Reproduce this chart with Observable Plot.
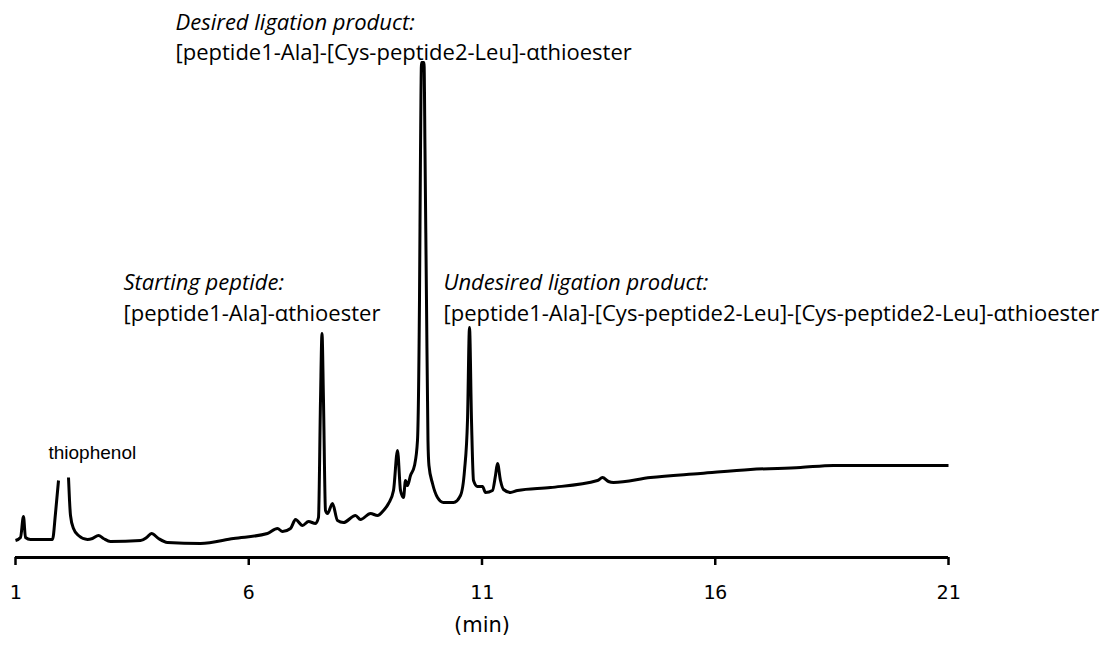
<!DOCTYPE html>
<html>
<head>
<meta charset="utf-8">
<script src="https://cdn.jsdelivr.net/npm/d3@7"></script>
<script src="https://cdn.jsdelivr.net/npm/@observablehq/plot@0.6"></script>
<style>
  html, body { margin: 0; padding: 0; background: #fff; }
</style>
</head>
<body>
<div id="chart"></div>
<script>
// Retention time (min)
const times = [
  1.000, 1.107, 1.171, 1.214, 1.322, 1.793, 1.857, 1.922, 2.030, 2.136,
  2.158, 2.179, 2.243, 2.350, 2.543, 2.650, 2.779, 2.886, 3.036, 3.680,
  3.810, 3.915, 4.065, 4.258, 4.966, 5.673, 6.402, 6.616, 6.723, 6.895,
  7.002, 7.152, 7.281, 7.431, 7.495, 7.538, 7.570, 7.602, 7.645, 7.688,
  7.795, 7.902, 8.031, 8.288, 8.395, 8.610, 8.760, 8.888, 8.996, 9.103,
  9.189, 9.253, 9.317, 9.360, 9.403, 9.467, 9.553, 9.617, 9.660, 9.682,
  9.703, 9.757, 9.778, 9.810, 9.842, 9.863, 9.939, 10.046, 10.175, 10.389,
  10.539, 10.625, 10.689, 10.732, 10.775, 10.818, 10.903, 11.011, 11.075, 11.225,
  11.289, 11.332, 11.396, 11.461, 11.611, 11.761, 12.468, 13.476, 13.583, 13.712,
  13.819, 14.612, 15.684, 16.756, 17.828, 18.535, 21.000
];
// Detector signal (relative units); null = off-scale gap at the thiophenol peak
const absorbance = [
  3.4, 4.0, 8.2, 4.0, 3.6, 3.6, 8.8, 15.4, null, 16.0,
  11.4, 8.4, 5.8, 4.4, 3.6, 3.8, 4.4, 3.8, 3.2, 3.4,
  4.0, 4.8, 3.8, 3.0, 2.8, 3.8, 4.8, 5.8, 5.2, 5.8,
  7.6, 6.4, 7.2, 6.8, 8.0, 31.4, 44.8, 31.4, 9.4, 8.8,
  10.8, 7.4, 7.0, 8.4, 7.6, 8.8, 8.4, 9.4, 10.8, 13.4,
  21.4, 13.4, 12.0, 15.4, 14.4, 16.4, 18.4, 23.4, 51.4, 81.4,
  99.0, 99.0, 81.4, 51.4, 23.4, 18.4, 14.8, 12.0, 11.0, 11.0,
  12.4, 17.4, 27.4, 46.0, 27.4, 15.4, 14.2, 14.2, 13.0, 13.4,
  16.4, 18.8, 15.4, 13.6, 13.0, 13.4, 14.0, 15.4, 16.0, 15.2,
  15.0, 16.0, 16.8, 17.6, 18.0, 18.4, 18.4
];
const xTicks = [1, 6, 11, 16, 21];
const xLabel = "(min)";

const data = times.map((t, i) => ({t, a: absorbance[i]}));

const labelFont = "'Open Sans', 'Noto Sans', sans-serif";

const annotations = [
  {x: 4.43, y: 105.6, text: "Desired ligation product:", italic: true},
  {x: 4.43, y: 99.6, text: "[peptide1-Ala]-[Cys-peptide2-Leu]-αthioester", italic: false},
  {x: 3.315, y: 53.6, text: "Starting peptide:", italic: true},
  {x: 3.315, y: 47.4, text: "[peptide1-Ala]-αthioester", italic: false},
  {x: 10.175, y: 53.6, text: "Undesired ligation product:", italic: true},
  {x: 10.175, y: 47.4, text: "[peptide1-Ala]-[Cys-peptide2-Leu]-[Cys-peptide2-Leu]-αthioester", italic: false}
];

const chart = Plot.plot({
  width: 1115,
  height: 645,
  marginLeft: 15,
  marginRight: 167,
  marginTop: 57,
  marginBottom: 88,
  x: {domain: [1, 21]},
  y: {domain: [0, 100], axis: null},
  style: {background: "#fff", color: "#000"},
  marks: [
    Plot.ruleY([0], {x1: 1, x2: 21, stroke: "#000", strokeWidth: 3}),
    Plot.axisX({
      ticks: xTicks,
      tickSize: 8,
      tickPadding: 19,
      strokeWidth: 2.5,
      fontSize: 20,
      fontFamily: "'DejaVu Sans Mono', monospace",
      tickFormat: d => String(d),
      label: null
    }),
    Plot.text([xLabel], {x: 11, y: -14.8, text: d => d, fontSize: 21,
      fontFamily: "'DejaVu Sans', Verdana, sans-serif", lineAnchor: "bottom", fill: "#000"}),
    Plot.line(data, {x: "t", y: "a", stroke: "#000", strokeWidth: 3, curve: "monotone-x",
      strokeLinejoin: "round", strokeLinecap: "butt"}),
    Plot.text(["thiophenol"], {x: 1.707, y: 19.8, text: d => d, textAnchor: "start", lineAnchor: "bottom",
      fontSize: 19, fontFamily: "'Liberation Sans', Arial, sans-serif", fill: "#000"}),
    Plot.text(annotations.filter(d => d.italic), {x: "x", y: "y", text: "text", textAnchor: "start", lineAnchor: "bottom",
      fontSize: 22, fontStyle: "italic", fontFamily: labelFont, fill: "#000"}),
    Plot.text(annotations.filter(d => !d.italic), {x: "x", y: "y", text: "text", textAnchor: "start", lineAnchor: "bottom",
      fontSize: 22, fontFamily: labelFont, fill: "#000"})
  ]
});
document.getElementById("chart").appendChild(chart);
</script>
</body>
</html>
